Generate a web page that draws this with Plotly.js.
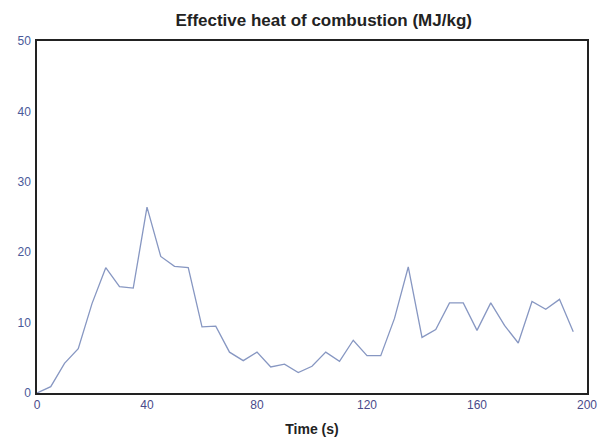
<!DOCTYPE html>
<html>
<head>
<meta charset="utf-8">
<script src="https://cdn.plot.ly/plotly-3.0.1.min.js"></script>
<style>
html, body { margin: 0; padding: 0; background: #ffffff; }
#chart { width: 605px; height: 438px; }
</style>
</head>
<body>
<div id="chart"></div>
<script>
var timeSeconds = [0, 5, 10, 15, 20, 25, 30, 35, 40, 45,
                   50, 55, 60, 65, 70, 75, 80, 85, 90, 95,
                   100, 105, 110, 115, 120, 125, 130, 135, 140, 145,
                   150, 155, 160, 165, 170, 175, 180, 185, 190, 195];
var heatOfCombustion = [0, 0.9, 4.2, 6.3, 12.7, 17.8, 15.1, 14.9, 26.4, 19.4,
                        18.0, 17.8, 9.4, 9.5, 5.8, 4.6, 5.8, 3.7, 4.1, 2.9,
                        3.8, 5.8, 4.5, 7.5, 5.3, 5.3, 10.6, 17.9, 7.9, 9.0,
                        12.8, 12.8, 8.9, 12.8, 9.6, 7.1, 13.0, 11.9, 13.3, 8.7];
var xTicks = [0, 40, 80, 120, 160, 200];
var yTicks = [0, 10, 20, 30, 40, 50];

var trace = {
  x: timeSeconds,
  y: heatOfCombustion,
  type: 'scatter',
  mode: 'lines',
  line: { color: '#8797c2', width: 1.3 },
  hoverinfo: 'x+y'
};

var layout = {
  width: 605,
  height: 438,
  margin: { l: 37, r: 18, t: 41, b: 45 },
  paper_bgcolor: '#ffffff',
  plot_bgcolor: '#ffffff',
  showlegend: false,
  font: { family: 'Liberation Sans, Arial, sans-serif', color: '#000000' },
  title: {
    text: '<b>Effective heat of combustion (MJ/kg)</b>',
    font: { size: 17, color: '#222222', family: 'Liberation Sans, Arial, sans-serif' },
    x: 0.535, xanchor: 'center',
    y: 0.955, yanchor: 'middle'
  },
  xaxis: {
    range: [0, 200],
    tickvals: xTicks,
    ticktext: xTicks.map(String),
    showgrid: false,
    zeroline: false,
    showline: true,
    linecolor: '#222222',
    linewidth: 1.5,
    mirror: true,
    ticks: '',
    tickfont: { size: 12, color: '#4a4a8a' },
    title: { text: '<b>Time (s)</b>', font: { size: 14, color: '#222222' }, standoff: 13 },
    fixedrange: true
  },
  yaxis: {
    range: [0, 50],
    tickvals: yTicks,
    ticktext: yTicks.map(String),
    showgrid: false,
    zeroline: false,
    showline: true,
    linecolor: '#222222',
    linewidth: 1.5,
    mirror: true,
    ticks: '',
    ticklabelstandoff: 2,
    tickfont: { size: 12, color: '#4a5a9a' },
    fixedrange: true
  }
};

Plotly.newPlot('chart', [trace], layout, { displayModeBar: false, responsive: false });
</script>
</body>
</html>
